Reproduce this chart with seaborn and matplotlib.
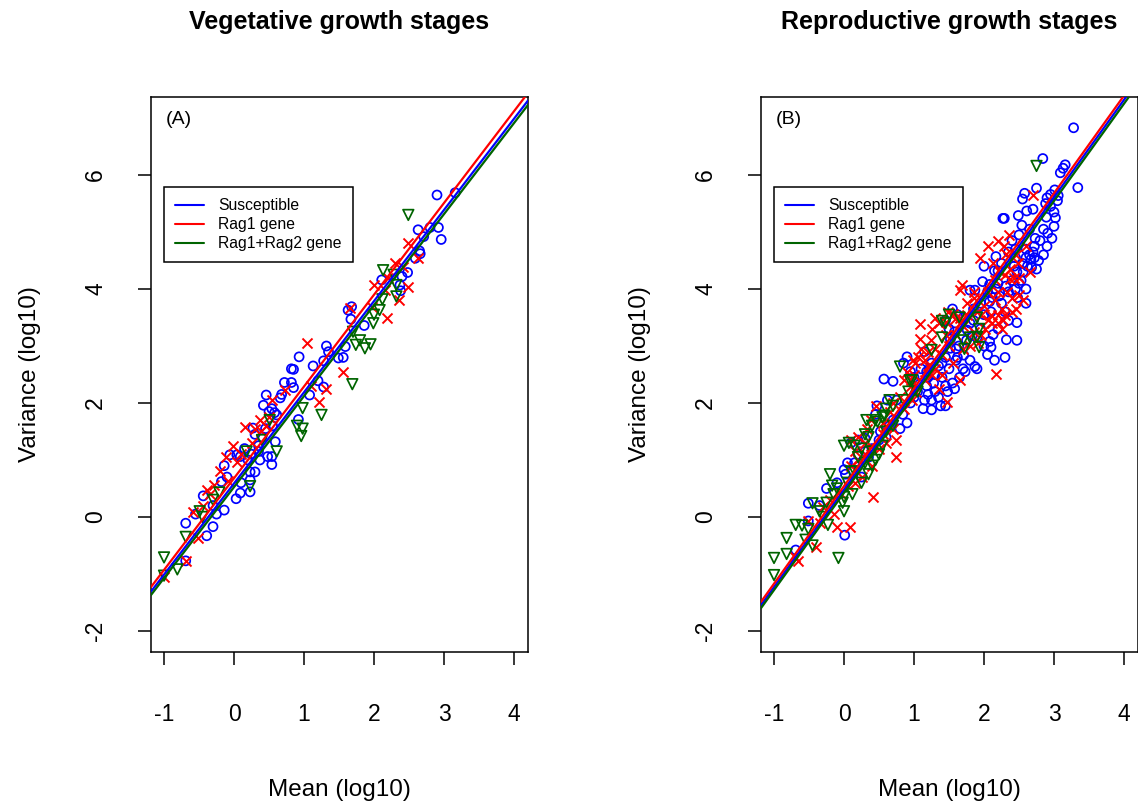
import numpy as np
import pandas as pd
import matplotlib
matplotlib.use("Agg")
import matplotlib.pyplot as plt
import seaborn as sns
from matplotlib.lines import Line2D

# ---------------------------------------------------------------------------
# Mean / variance (log10) pairs per genotype group
# ---------------------------------------------------------------------------
groups = ["Susceptible", "Rag1 gene", "Rag1+Rag2 gene"]
colors = ["blue", "red", "darkgreen"]

veg_susceptible = np.array([
    (2.90, 5.65), (3.16, 5.69), (2.63, 5.04), (2.80, 5.08), (2.92, 5.08), (2.96, 4.87),
    (2.71, 4.92), (2.65, 4.67), (2.59, 4.54), (2.66, 4.62), (2.48, 4.29), (2.40, 4.22),
    (2.37, 4.07), (2.38, 3.97), (2.11, 4.16), (1.68, 3.69), (1.63, 3.63), (1.67, 3.47),
    (1.86, 3.36), (1.32, 3.00), (1.35, 2.90), (1.59, 2.99), (1.56, 2.80), (1.49, 2.79),
    (0.93, 2.81), (1.13, 2.65), (1.28, 2.74), (0.82, 2.60), (0.85, 2.59), (1.20, 2.39),
    (1.28, 2.28), (1.08, 2.14), (0.72, 2.36), (0.82, 2.36), (0.85, 2.27), (0.66, 2.09),
    (0.68, 2.15), (0.46, 2.14), (0.42, 1.96), (0.50, 1.85), (0.54, 1.90), (0.58, 1.83),
    (0.61, 1.79), (0.27, 1.56), (0.92, 1.71), (0.59, 1.32), (0.54, 0.92), (0.37, 1.00),
    (0.48, 1.06), (0.54, 1.06), (0.04, 1.09), (-0.06, 1.09), (-0.14, 0.90), (0.09, 1.06),
    (0.20, 1.00), (0.23, 0.79), (0.23, 0.65), (0.23, 0.44), (0.09, 0.42), (0.03, 0.32),
    (0.30, 0.79), (-0.18, 0.62), (-0.44, 0.37), (-0.69, -0.11), (-0.30, -0.17), (-0.14, 0.12),
    (-0.39, -0.33), (-0.69, -0.77), (0.35, 1.25), (0.40, 1.40), (0.15, 1.20), (0.30, 1.45),
    (0.45, 1.55), (-0.30, 0.20), (-0.10, 0.70), (0.10, 0.60), (0.55, 1.60), (0.25, 1.10),
    (0.35, 1.15), (-0.25, 0.05), (-0.55, 0.05),
])

veg_rag1 = np.array([
    (2.48, 4.81), (2.63, 4.54), (2.30, 4.45), (2.42, 4.39), (2.00, 4.07), (2.16, 3.98),
    (2.49, 4.04), (2.19, 3.50), (1.65, 3.66), (1.97, 3.69), (1.04, 3.05), (1.56, 2.55),
    (1.31, 2.24), (1.21, 2.01), (0.73, 2.22), (0.54, 2.05), (0.37, 1.70), (0.16, 1.57),
    (0.30, 1.55), (0.38, 1.50), (0.45, 1.60), (-0.02, 1.25), (-0.11, 1.05), (0.04, 0.97),
    (-0.09, 0.63), (-0.39, 0.47), (-0.28, 0.56), (-0.59, 0.09), (-0.51, -0.37), (-0.69, -0.77),
    (-1.00, -1.05), (-0.35, 0.40), (0.25, 1.30), (0.10, 1.10), (-0.20, 0.80), (2.20, 4.20),
    (2.35, 3.80), (1.10, 2.30), (-0.45, 0.20), (0.50, 1.75),
])

veg_rag12 = np.array([
    (2.49, 5.30), (2.13, 4.33), (2.28, 4.25), (2.32, 4.07), (2.12, 3.82), (2.32, 3.87),
    (2.08, 3.63), (1.99, 3.40), (1.74, 3.02), (1.87, 2.96), (1.95, 3.03), (1.70, 3.25),
    (1.69, 2.33), (1.25, 1.79), (0.98, 1.91), (0.90, 1.60), (0.98, 1.55), (0.96, 1.42),
    (0.51, 1.70), (0.61, 1.15), (0.18, 1.15), (0.23, 0.54), (-0.21, 0.43), (-0.49, 0.10),
    (-0.45, 0.00), (-0.69, -0.35), (-1.00, -0.71), (-1.00, -1.03), (-0.81, -0.92), (2.00, 3.55),
    (1.80, 3.10), (-0.30, 0.30), (0.40, 1.35),
])

rep_susceptible = np.array([
    (3.28, 6.83), (2.84, 6.29), (3.16, 6.18), (3.13, 6.12), (3.09, 6.04), (3.34, 5.78),
    (3.01, 5.74), (3.06, 5.64), (2.90, 5.60), (2.95, 5.66), (2.88, 5.50), (2.58, 5.68),
    (2.55, 5.58), (2.75, 5.77), (2.70, 5.40), (2.61, 5.37), (2.49, 5.29), (2.29, 5.24),
    (2.89, 5.26), (3.02, 5.25), (2.91, 4.98), (2.97, 4.89), (2.73, 4.89), (2.72, 4.75),
    (2.60, 4.70), (2.65, 4.60), (2.60, 4.55), (2.67, 4.52), (2.72, 4.55), (2.78, 4.50),
    (2.62, 4.40), (2.68, 4.38), (2.45, 4.70), (2.45, 4.55), (2.43, 4.40), (2.47, 4.30),
    (2.56, 4.30), (2.53, 4.15), (2.17, 4.57), (2.15, 4.32), (2.20, 4.32), (1.98, 4.13),
    (2.08, 4.08), (2.17, 4.00), (2.12, 3.85), (2.08, 3.78), (2.22, 3.88), (2.31, 4.05),
    (2.45, 4.00), (2.48, 3.85), (2.50, 4.10), (1.80, 3.98), (1.87, 3.98), (2.47, 3.41),
    (2.32, 3.11), (2.13, 3.20), (2.08, 3.08), (2.10, 2.98), (1.80, 3.40), (1.76, 3.28),
    (1.83, 3.18), (1.90, 3.15), (1.45, 3.45), (1.50, 3.30), (1.52, 3.12), (1.58, 3.25),
    (1.52, 2.96), (1.64, 3.00), (1.71, 2.84), (1.62, 2.80), (1.45, 2.80), (1.87, 2.64),
    (0.90, 2.81), (0.85, 2.70), (0.57, 2.42), (0.70, 2.38), (1.15, 2.90), (1.10, 2.60),
    (1.20, 2.45), (1.18, 2.30), (1.20, 2.15), (1.15, 2.05), (1.13, 1.90), (1.25, 1.88),
    (1.45, 2.30), (1.48, 2.20), (1.58, 2.25), (1.45, 1.95), (1.73, 2.55), (1.90, 2.60),
    (1.60, 2.75), (1.65, 2.45), (2.15, 2.75), (2.30, 2.80), (2.47, 3.10), (2.05, 2.85),
    (0.47, 1.95), (0.62, 2.05), (0.84, 1.80), (0.70, 1.70), (0.45, 1.80), (0.52, 1.50),
    (0.20, 1.35), (0.30, 1.38), (0.10, 1.30), (0.00, 0.83), (0.02, 0.75), (-0.25, 0.50),
    (-0.51, 0.24), (-0.51, -0.07), (0.01, -0.32), (-0.69, -0.58), (1.00, 2.10), (1.05, 2.35),
    (0.95, 2.00), (1.30, 2.50), (1.35, 2.65), (1.40, 2.70), (1.25, 2.70), (1.00, 2.45),
    (0.40, 1.20), (0.35, 1.05), (0.60, 1.40), (0.15, 0.95), (-0.10, 0.60), (0.25, 0.70),
    (0.80, 1.55), (0.90, 1.65), (-0.35, 0.20), (1.70, 3.50), (1.85, 3.65), (2.00, 3.55),
    (2.30, 3.60), (2.60, 4.00), (2.75, 4.35), (2.85, 4.60), (2.90, 4.75), (3.00, 5.10),
    (2.40, 4.85), (2.35, 4.65), (2.25, 4.45), (2.00, 4.40), (1.55, 3.65), (1.95, 3.30),
    (2.54, 5.12), (3.00, 5.35), (2.27, 5.24), (1.22, 2.60), (1.28, 2.35), (1.35, 2.10),
    (1.95, 3.75), (2.05, 3.95), (2.25, 3.75), (2.35, 3.95), (2.40, 4.15), (2.55, 4.45),
    (2.70, 4.65), (2.80, 4.85), (2.85, 5.05), (2.95, 5.45), (3.05, 5.55), (2.65, 5.05),
    (2.50, 4.95), (2.20, 4.10), (2.10, 3.60), (1.85, 3.45), (1.75, 3.10), (1.60, 2.95),
    (1.50, 2.60), (1.40, 2.45), (1.30, 2.20), (1.18, 2.55), (1.05, 2.20), (0.95, 2.55),
    (0.75, 2.05), (0.65, 1.60), (0.50, 1.35), (0.30, 1.15), (0.20, 1.10), (0.05, 0.95),
    (1.70, 2.60), (1.80, 2.75), (2.00, 3.00), (2.20, 3.30), (2.35, 3.45), (2.60, 3.75),
    (1.55, 2.35), (1.38, 1.95), (1.25, 2.05), (1.62, 3.55),
])

rep_rag1 = np.array([
    (2.70, 5.65), (2.35, 4.94), (2.20, 4.85), (2.28, 4.75), (2.32, 4.62), (2.05, 4.75),
    (1.94, 4.54), (2.13, 4.45), (2.23, 4.30), (2.37, 4.35), (2.48, 4.45), (2.43, 4.20),
    (2.37, 4.18), (1.68, 4.07), (1.66, 3.98), (2.20, 3.95), (2.33, 3.95), (2.40, 3.85),
    (2.50, 3.90), (2.10, 3.55), (2.20, 3.55), (2.25, 3.65), (2.30, 3.55), (2.27, 3.45),
    (1.49, 3.60), (1.35, 3.40), (1.45, 3.42), (1.09, 3.13), (1.24, 3.10), (1.65, 3.40),
    (1.58, 3.48), (1.95, 3.20), (2.02, 3.30), (1.92, 3.05), (1.10, 2.95), (1.20, 2.90),
    (1.09, 3.38), (1.26, 3.30), (1.30, 3.50), (1.55, 3.57), (1.65, 3.50), (1.75, 3.55),
    (2.12, 3.40), (2.20, 3.40), (2.45, 3.65), (2.55, 3.80), (1.85, 3.25), (1.80, 3.00),
    (2.17, 2.51), (1.47, 2.02), (1.65, 2.40), (1.40, 2.50), (1.30, 2.60), (0.90, 2.55),
    (0.96, 2.40), (1.03, 2.20), (0.97, 2.05), (1.06, 2.80), (0.98, 2.75), (1.01, 2.70),
    (0.74, 1.35), (0.74, 1.06), (0.55, 1.65), (0.45, 1.95), (0.38, 1.70), (0.33, 1.55),
    (0.20, 1.40), (0.38, 1.25), (0.42, 0.35), (0.10, 1.35), (0.20, 1.00), (0.10, 0.90),
    (0.25, 0.70), (0.09, -0.18), (-0.10, -0.18), (-0.30, 0.18), (-0.51, -0.07), (-0.66, -0.78),
    (-0.40, -0.53), (0.60, 1.60), (0.65, 1.85), (0.80, 2.10), (0.85, 1.90), (0.70, 1.55),
    (0.50, 1.20), (0.30, 1.10), (0.15, 0.60), (-0.05, 0.40), (-0.20, 0.30), (1.15, 2.40),
    (1.20, 2.65), (1.35, 2.25), (1.55, 2.70), (1.70, 2.95), (2.00, 3.70), (2.05, 3.95),
    (1.85, 3.85), (1.90, 3.60), (1.60, 3.20), (1.50, 3.00), (1.40, 2.85), (0.95, 2.30),
    (0.60, 1.30), (0.40, 0.90), (0.05, 0.55), (-0.15, 0.05), (-0.70, -0.70), (-0.35, -0.10),
    (1.75, 3.75), (1.85, 3.95), (2.15, 4.15), (2.30, 4.25), (2.45, 4.60), (2.60, 4.75),
    (2.15, 3.80), (2.40, 3.60), (2.05, 3.45), (1.95, 3.55), (1.70, 3.35), (1.45, 3.20),
    (1.30, 2.95), (1.15, 2.75), (0.85, 2.40), (0.70, 2.00), (0.55, 1.45), (0.30, 1.30),
    (0.15, 1.15), (2.25, 3.30), (2.50, 4.20), (2.65, 4.30), (1.00, 2.50), (1.25, 2.50),
])

rep_rag12 = np.array([
    (2.75, 6.16), (1.40, 3.44), (1.45, 3.40), (1.90, 3.16), (1.93, 2.98), (1.70, 3.10),
    (1.72, 2.95), (1.25, 2.93), (0.80, 2.64), (0.94, 2.40), (0.92, 2.20), (0.70, 1.95),
    (0.60, 1.90), (0.58, 1.78), (0.45, 1.70), (0.55, 1.75), (0.00, 1.25), (0.07, 1.30),
    (0.15, 1.25), (0.30, 1.45), (0.35, 1.40), (0.30, 0.95), (0.40, 0.90), (0.35, 0.75),
    (0.50, 1.10), (0.40, 1.15), (-0.20, 0.75), (-0.15, 0.40), (0.00, 0.35), (-0.02, 0.25),
    (0.12, 0.40), (-0.17, 0.55), (-0.45, 0.24), (-0.23, -0.14), (-0.30, 0.00), (-0.69, -0.14),
    (-0.51, -0.21), (-0.82, -0.37), (-0.82, -0.65), (-1.00, -0.72), (-1.00, -1.02), (-0.08, -0.72),
    (-0.45, -0.50), (1.50, 3.55), (1.65, 3.50), (1.90, 3.50), (1.93, 3.30), (1.80, 3.15),
    (1.40, 3.15), (0.40, 1.60), (0.25, 1.20), (0.20, 1.05), (0.10, 0.80), (0.45, 1.00),
    (-0.10, 0.50), (0.05, 0.60), (-0.35, 0.10), (-0.60, -0.15), (0.70, 1.60), (0.85, 2.05),
    (1.05, 2.20), (0.55, 1.25), (-0.55, -0.40), (0.00, 0.10), (0.25, 0.60), (0.60, 1.50),
    (0.15, 0.80), (-0.25, 0.25), (0.32, 1.70), (0.48, 1.67), (0.97, 2.40), (0.65, 2.05),
])

# Fitted regression lines: (intercept, slope) per group
veg_intercepts = [0.588, 0.680, 0.524]
veg_slopes = [1.600, 1.610, 1.597]
rep_intercepts = [0.480, 0.542, 0.424]
rep_slopes = [1.710, 1.713, 1.707]

x_ticks = [-1, 0, 1, 2, 3, 4]
y_ticks = [-2, 0, 2, 4, 6]

# ---------------------------------------------------------------------------
sns.set_theme(style="white")
plt.rcParams["font.family"] = ["Liberation Sans", "DejaVu Sans"]
plt.rcParams.update({
    "text.color": "black",
    "axes.labelcolor": "black",
    "xtick.color": "black",
    "ytick.color": "black",
    "axes.edgecolor": "black",
})

W, H = 1138, 809
fig = plt.figure(figsize=(W / 100, H / 100), dpi=100)

ax_left = fig.add_axes([151 / W, 1 - 652 / H, 377 / W, 555 / H])
ax_right = fig.add_axes([761 / W, 1 - 652 / H, 377 / W, 555 / H])


def draw_panel(ax, data_sets, intercepts, slopes, title, tag):
    frames = []
    for name, arr in zip(groups, data_sets):
        frames.append(pd.DataFrame({"mean": arr[:, 0], "var": arr[:, 1], "group": name}))
    df = pd.concat(frames, ignore_index=True)

    sus = df[df["group"] == groups[0]]
    r1 = df[df["group"] == groups[1]]
    r12 = df[df["group"] == groups[2]]

    sns.scatterplot(data=sus, x="mean", y="var", ax=ax, marker="o", s=42,
                    facecolors="none", edgecolor=colors[0], linewidth=1.25, zorder=2)
    sns.scatterplot(data=r1, x="mean", y="var", ax=ax, marker="x", s=52,
                    color=colors[1], linewidth=1.4, zorder=2)
    sns.scatterplot(data=r12, x="mean", y="var", ax=ax, marker="v", s=58,
                    facecolors="none", edgecolor=colors[2], linewidth=1.25, zorder=2)

    ax.set_xlim(-1.186, 4.2)
    ax.set_ylim(-2.37, 7.37)

    for a, b, c in zip(intercepts, slopes, colors):
        ax.axline((0, a), slope=b, color=c, linewidth=1.6, zorder=3)

    ax.set_xticks(x_ticks)
    ax.set_yticks(y_ticks)
    ax.set_xticklabels([str(t) for t in x_ticks])
    ax.set_yticklabels([str(t) for t in y_ticks])
    ax.tick_params(axis="both", which="both", direction="out", length=9.5, width=1.1,
                   color="black", labelsize=16.5, labelcolor="black",
                   bottom=True, left=True, top=False, right=False)
    ax.tick_params(axis="x", pad=27)
    ax.tick_params(axis="y", pad=22, labelrotation=90)
    for lab in ax.get_yticklabels():
        lab.set_va("center")

    for sp in ax.spines.values():
        sp.set_color("black")
        sp.set_linewidth(1.1)
        sp.set_visible(True)

    ax.set_xlabel("Mean (log10)", fontsize=17.5, va="center", color="black")
    ax.set_ylabel("Variance (log10)", fontsize=17.5, va="center", color="black")
    ax.xaxis.set_label_coords(0.5, -0.2486)
    ax.yaxis.set_label_coords(-0.32, 0.5)

    ax.text(0.04, 0.959, tag, transform=ax.transAxes, ha="left", va="center",
            fontsize=14, color="black")

    handles = [Line2D([0], [0], color=c, linewidth=1.5) for c in colors]
    leg = ax.legend(handles, groups, loc="upper left", bbox_to_anchor=(0.0345, 0.838),
                    borderaxespad=0, fontsize=11.3, frameon=True, fancybox=False,
                    edgecolor="black", framealpha=1, handlelength=1.85,
                    handletextpad=0.9, labelspacing=0.25, borderpad=0.72)
    leg.get_frame().set_linewidth(1.1)
    for t in leg.get_texts():
        t.set_color("black")

    bbox = ax.get_position()
    fig.text((bbox.x0 + bbox.x1) / 2, 1 - 22 / H, title, ha="center", va="center",
             fontsize=18, fontweight="bold", color="black")


draw_panel(ax_left, [veg_susceptible, veg_rag1, veg_rag12], veg_intercepts, veg_slopes,
           "Vegetative growth stages", "(A)")
draw_panel(ax_right, [rep_susceptible, rep_rag1, rep_rag12], rep_intercepts, rep_slopes,
           "Reproductive growth stages", "(B)")

fig.savefig("out.png", dpi=100)
